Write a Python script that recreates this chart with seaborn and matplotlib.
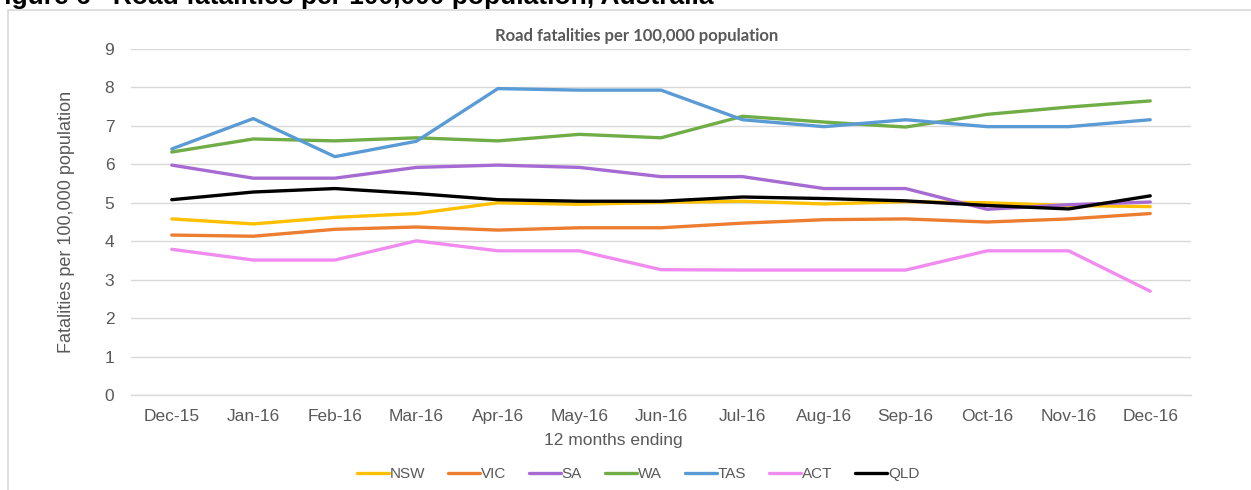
import pandas as pd
import seaborn as sns
import matplotlib.pyplot as plt
from matplotlib.patches import Rectangle

months = ["Dec-15", "Jan-16", "Feb-16", "Mar-16", "Apr-16", "May-16", "Jun-16",
          "Jul-16", "Aug-16", "Sep-16", "Oct-16", "Nov-16", "Dec-16"]

nsw = [4.58, 4.45, 4.62, 4.72, 5.00, 4.96, 5.01, 5.04, 4.97, 5.03, 5.00, 4.93, 4.90]
vic = [4.16, 4.13, 4.31, 4.37, 4.29, 4.35, 4.35, 4.47, 4.56, 4.58, 4.50, 4.58, 4.72]
sa = [5.98, 5.64, 5.64, 5.92, 5.98, 5.92, 5.68, 5.68, 5.37, 5.37, 4.83, 4.95, 5.02]
wa = [6.32, 6.66, 6.61, 6.69, 6.61, 6.78, 6.69, 7.25, 7.10, 6.97, 7.30, 7.49, 7.65]
tas = [6.40, 7.19, 6.20, 6.60, 7.97, 7.93, 7.93, 7.16, 6.98, 7.16, 6.98, 6.98, 7.16]
act = [3.79, 3.51, 3.51, 4.01, 3.75, 3.75, 3.26, 3.25, 3.25, 3.25, 3.75, 3.75, 2.70]
qld = [5.08, 5.28, 5.37, 5.24, 5.08, 5.04, 5.04, 5.15, 5.11, 5.05, 4.93, 4.84, 5.18]

states = ["NSW", "VIC", "SA", "WA", "TAS", "ACT", "QLD"]
colors = ["#FFC000", "#ED7D31", "#A66BD3", "#70AD47", "#5B9BD5", "#F08CF0", "#000000"]

series = {"NSW": nsw, "VIC": vic, "SA": sa, "WA": wa, "TAS": tas, "ACT": act, "QLD": qld}
rows = []
for s in states:
    for m, v in zip(months, series[s]):
        rows.append({"month": m, "value": v, "state": s})
df = pd.DataFrame(rows)

sns.set_style("white")
plt.rcParams['font.family'] = ['Liberation Sans', 'DejaVu Sans']
grey = "#595959"

fig = plt.figure(figsize=(12.51, 4.90), dpi=100)
ax = fig.add_axes([131 / 1251, 95 / 490, 1060 / 1251, 346 / 490])

sns.lineplot(data=df, x="month", y="value", hue="state", hue_order=states,
             palette=colors, linewidth=2.4, sort=False, ax=ax)

ax.set_xlim(-0.5, 12.5)
ax.set_ylim(0, 9)
ax.set_yticks(range(0, 10))
ax.grid(axis="y", color="#D9D9D9", linewidth=1)
for side in ["top", "right", "left"]:
    ax.spines[side].set_visible(False)
ax.spines["bottom"].set_color("#D9D9D9")
ax.spines["bottom"].set_linewidth(1)

ax.set_xticks(range(len(months)))
ax.set_xticklabels(months)
ax.set_xticks([i - 0.5 for i in range(len(months) + 1)], minor=True)
ax.tick_params(axis="x", which="major", length=0, pad=10, labelsize=12.5, labelcolor=grey)
ax.tick_params(axis="x", which="minor", length=5, color="#D9D9D9", width=1)
ax.tick_params(axis="y", length=0, pad=12, labelsize=12.5, labelcolor=grey)

ax.set_xlabel("")
ax.set_ylabel("")
fig.text(613 / 1251, (490 - 440) / 490, "12 months ending", ha="center", va="center",
         fontsize=12.5, color=grey)
fig.text(67 / 1251, (490 - 222) / 490, "Fatalities per 100,000 population", ha="center",
         va="center", rotation=90, fontsize=13, color=grey)

fig.text(637 / 1251, (490 - 36) / 490, "Road fatalities per 100,000 population",
         ha="center", va="center", fontsize=12, fontweight="bold", color=grey,
         family=['Lato', 'Liberation Sans'])

# caption of the document, cut off at the top of the picture
fig.text(-12 / 1251, (490 - 4) / 490, "Figure 6   Road fatalities per 100,000 population, Australia",
         ha="left", va="baseline", fontsize=19, fontweight="bold", color="black")

fig.patches.append(Rectangle((7.5 / 1251, -0.02), 1.1, (490 - 10.5) / 490 + 0.02,
                             transform=fig.transFigure, fill=False,
                             edgecolor="#D9D9D9", linewidth=1.2))

leg = ax.legend(loc="center", bbox_to_anchor=(638 / 1251, (490 - 474) / 490),
                bbox_transform=fig.transFigure, ncol=7, frameon=False,
                handlelength=2.1, handletextpad=0.05, columnspacing=1.5,
                fontsize=11)
for t in leg.get_texts():
    t.set_color(grey)
for line in leg.get_lines():
    line.set_linewidth(2.4)

fig.savefig("out.png", dpi=100)
